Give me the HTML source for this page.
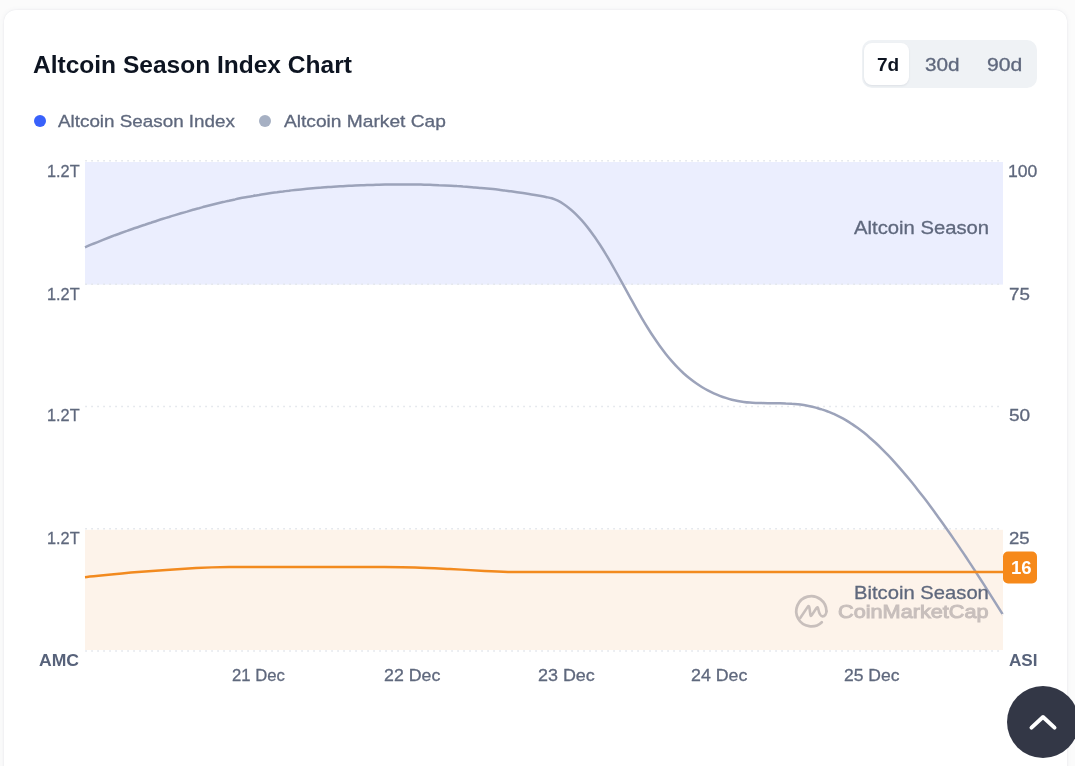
<!DOCTYPE html>
<html lang="en">
<head>
<meta charset="utf-8">
<title>Altcoin Season Index Chart</title>
<style>
*{box-sizing:border-box;margin:0;padding:0}
html,body{width:1075px;height:766px;overflow:hidden;background:#fbfbfb;font-family:"Liberation Sans",sans-serif;}
.card{position:absolute;left:4px;top:10px;width:1063px;height:800px;background:#fff;border-radius:12px;box-shadow:0 0 5px rgba(88,102,126,.07),0 0 1.5px rgba(88,102,126,.10);}
.abs{position:absolute;white-space:nowrap;line-height:1;transform-origin:0 0}
.toggle{position:absolute;left:862px;top:40px;width:175px;height:48px;background:#eff2f5;border-radius:10px;}
.toggle .on{position:absolute;left:2px;top:3px;width:45px;height:42px;background:#fff;border-radius:8px;box-shadow:0 1px 2px rgba(88,102,126,.12);}
.dot{position:absolute;width:12px;height:12px;border-radius:50%;}
svg{position:absolute;left:0;top:0}
</style>
</head>
<body>
<div class="card"></div>
<div class="toggle"><div class="on"></div></div>
<div class="dot" style="left:34px;top:115px;background:#3861fb"></div>
<div class="dot" style="left:259px;top:115px;background:#a6b0c3"></div>

<svg width="1075" height="766" viewBox="0 0 1075 766">
  <rect x="85" y="162" width="918" height="122.6" fill="#ebeefe"/>
  <rect x="85" y="529.8" width="918" height="120.2" fill="#fdf3ea"/>
  <g stroke="#e3e6ec" stroke-width="1.5" stroke-dasharray="1.7 4.3" stroke-dashoffset="-0.2" fill="none">
    <line x1="85" y1="160.8" x2="1003" y2="160.8"/>
    <line x1="85" y1="284.2" x2="1003" y2="284.2"/>
    <line x1="85" y1="406.6" x2="1003" y2="406.6"/>
    <line x1="85" y1="528.8" x2="1003" y2="528.8"/>
    <line x1="85" y1="651" x2="1003" y2="651"/>
  </g>
  <path id="grey" d="M85.0,247.3 C86.0,246.9 89.0,245.6 91.0,244.7 C93.0,243.9 95.0,243.1 97.0,242.3 C99.0,241.5 101.0,240.7 103.0,239.9 C105.0,239.1 107.0,238.3 109.0,237.5 C111.0,236.8 113.0,236.0 115.0,235.2 C117.0,234.5 119.0,233.8 121.0,233.0 C123.0,232.3 125.0,231.6 127.0,230.9 C129.0,230.1 131.0,229.4 133.0,228.7 C135.0,228.0 137.0,227.4 139.0,226.7 C141.0,226.0 143.0,225.3 145.0,224.7 C147.0,224.0 149.0,223.3 151.0,222.7 C153.0,222.0 155.0,221.4 157.0,220.7 C159.0,220.1 161.0,219.5 163.0,218.8 C165.0,218.2 167.0,217.6 169.0,217.0 C171.0,216.3 173.0,215.7 175.0,215.1 C177.0,214.5 179.0,213.9 181.0,213.3 C183.0,212.7 185.0,212.1 187.0,211.6 C189.0,211.0 191.0,210.4 193.0,209.8 C195.0,209.3 197.0,208.7 199.0,208.2 C201.0,207.6 203.0,207.1 205.0,206.5 C207.0,206.0 209.0,205.5 211.0,205.0 C213.0,204.5 215.0,204.0 217.0,203.5 C219.0,203.0 221.0,202.5 223.0,202.0 C225.0,201.6 227.0,201.1 229.0,200.7 C231.0,200.2 233.0,199.8 235.0,199.4 C237.0,198.9 239.0,198.5 241.0,198.1 C243.0,197.7 245.0,197.4 247.0,197.0 C249.0,196.6 251.0,196.2 253.0,195.9 C255.0,195.5 257.0,195.2 259.0,194.9 C261.0,194.5 263.0,194.2 265.0,193.9 C267.0,193.6 269.0,193.3 271.0,193.0 C273.0,192.7 275.0,192.4 277.0,192.2 C279.0,191.9 281.0,191.6 283.0,191.4 C285.0,191.1 287.0,190.9 289.0,190.7 C291.0,190.4 293.0,190.2 295.0,190.0 C297.0,189.8 299.0,189.6 301.0,189.4 C303.0,189.2 305.0,189.0 307.0,188.8 C309.0,188.6 311.0,188.4 313.0,188.2 C315.0,188.1 317.0,187.9 319.0,187.7 C321.0,187.6 323.0,187.4 325.0,187.3 C327.0,187.2 329.0,187.0 331.0,186.9 C333.0,186.7 335.0,186.6 337.0,186.5 C339.0,186.4 341.0,186.3 343.0,186.2 C345.0,186.0 347.0,185.9 349.0,185.8 C351.0,185.7 353.0,185.7 355.0,185.6 C357.0,185.5 359.0,185.4 361.0,185.3 C363.0,185.2 365.0,185.2 367.0,185.1 C369.0,185.0 371.0,185.0 373.0,184.9 C375.0,184.8 377.0,184.8 379.0,184.7 C381.0,184.7 383.0,184.7 385.0,184.6 C387.0,184.6 389.0,184.5 391.0,184.5 C393.0,184.5 395.0,184.5 397.0,184.5 C399.0,184.5 401.0,184.5 403.0,184.5 C405.0,184.5 407.0,184.5 409.0,184.5 C411.0,184.5 413.0,184.5 415.0,184.5 C417.0,184.6 419.0,184.6 421.0,184.6 C423.0,184.7 425.0,184.7 427.0,184.8 C429.0,184.8 431.0,184.9 433.0,184.9 C435.0,185.0 437.0,185.1 439.0,185.2 C441.0,185.2 443.0,185.3 445.0,185.4 C447.0,185.5 449.0,185.6 451.0,185.7 C453.0,185.8 455.0,185.9 457.0,186.1 C459.0,186.2 461.0,186.3 463.0,186.5 C465.0,186.6 467.0,186.7 469.0,186.9 C471.0,187.1 473.0,187.2 475.0,187.4 C477.0,187.6 479.0,187.7 481.0,187.9 C483.0,188.1 485.0,188.3 487.0,188.5 C489.0,188.7 491.0,188.9 493.0,189.1 C495.0,189.4 497.0,189.6 499.0,189.8 C501.0,190.1 503.0,190.3 505.0,190.6 C507.0,190.8 509.0,191.1 511.0,191.3 C513.0,191.6 515.0,191.9 517.0,192.2 C519.0,192.5 521.0,192.8 523.0,193.1 C525.0,193.4 527.0,193.7 529.0,194.0 C531.0,194.4 533.0,194.7 535.0,195.0 C537.0,195.4 539.2,195.8 541.0,196.1 C542.8,196.4 544.0,196.6 545.8,197.0 C547.6,197.4 549.8,197.7 551.8,198.3 C553.8,199.0 555.8,199.8 557.8,200.7 C559.8,201.7 561.8,202.9 563.8,204.2 C565.8,205.5 567.8,207.0 569.8,208.7 C571.8,210.3 573.8,212.1 575.8,214.1 C577.8,216.1 579.8,218.2 581.8,220.4 C583.8,222.7 585.8,225.1 587.8,227.6 C589.8,230.2 591.8,232.9 593.8,235.7 C595.8,238.5 597.8,241.5 599.8,244.5 C601.8,247.6 603.8,250.8 605.8,254.1 C607.8,257.4 609.8,260.9 611.8,264.3 C613.8,267.8 615.8,271.4 617.8,275.0 C619.8,278.6 621.8,282.2 623.8,285.9 C625.8,289.5 627.8,293.2 629.8,296.8 C631.8,300.4 633.8,304.1 635.8,307.6 C637.8,311.1 639.8,314.7 641.8,318.1 C643.8,321.5 645.8,324.8 647.8,328.0 C649.8,331.3 651.8,334.4 653.8,337.3 C655.8,340.3 657.8,343.2 659.8,346.0 C661.8,348.7 663.8,351.3 665.8,353.9 C667.8,356.4 669.8,358.8 671.8,361.1 C673.8,363.4 675.8,365.6 677.8,367.6 C679.8,369.7 681.8,371.6 683.8,373.5 C685.8,375.3 687.8,377.0 689.8,378.6 C691.8,380.2 693.8,381.7 695.8,383.1 C697.8,384.5 699.8,385.8 701.8,387.0 C703.8,388.2 705.8,389.3 707.8,390.3 C709.8,391.4 711.8,392.4 713.8,393.3 C715.8,394.2 717.8,395.0 719.8,395.8 C721.8,396.6 723.8,397.3 725.8,397.9 C727.8,398.6 729.8,399.2 731.8,399.7 C733.8,400.2 735.8,400.6 737.8,401.0 C739.8,401.4 741.8,401.7 743.8,401.9 C745.8,402.2 747.8,402.4 749.8,402.5 C751.8,402.7 753.8,402.8 755.8,402.9 C757.8,403.0 759.8,403.1 761.8,403.1 C763.8,403.2 765.8,403.2 767.8,403.2 C769.8,403.2 771.8,403.2 773.8,403.2 C775.8,403.3 777.8,403.3 779.8,403.3 C781.8,403.3 783.8,403.4 785.8,403.5 C787.8,403.5 789.8,403.6 791.8,403.8 C793.8,403.9 795.8,404.1 797.8,404.3 C799.8,404.5 801.8,404.8 803.8,405.1 C805.8,405.4 807.8,405.8 809.8,406.2 C811.8,406.6 813.8,407.1 815.8,407.6 C817.8,408.2 819.8,408.7 821.8,409.4 C823.8,410.0 825.8,410.7 827.8,411.5 C829.8,412.2 831.8,413.1 833.8,413.9 C835.8,414.8 837.8,415.8 839.8,416.8 C841.8,417.8 843.8,418.9 845.8,420.1 C847.8,421.3 849.8,422.5 851.8,423.9 C853.8,425.2 855.8,426.6 857.8,428.0 C859.8,429.5 861.8,431.0 863.8,432.6 C865.8,434.2 867.8,435.9 869.8,437.7 C871.8,439.4 873.8,441.2 875.8,443.0 C877.8,444.9 879.8,446.8 881.8,448.8 C883.8,450.8 885.8,452.8 887.8,454.9 C889.8,457.0 891.8,459.1 893.8,461.3 C895.8,463.5 897.8,465.8 899.8,468.1 C901.8,470.4 903.8,472.7 905.8,475.1 C907.8,477.5 909.8,479.9 911.8,482.3 C913.8,484.8 915.8,487.3 917.8,489.9 C919.8,492.4 921.8,495.0 923.8,497.6 C925.8,500.2 927.8,502.8 929.8,505.5 C931.8,508.2 933.8,510.9 935.8,513.7 C937.8,516.4 939.8,519.2 941.8,522.0 C943.8,524.8 945.8,527.6 947.8,530.4 C949.8,533.3 951.8,536.2 953.8,539.1 C955.8,542.0 957.8,544.9 959.8,547.9 C961.8,550.8 963.8,553.8 965.8,556.8 C967.8,559.8 969.8,562.9 971.8,565.9 C973.8,568.9 975.8,572.0 977.8,575.1 C979.8,578.2 981.8,581.3 983.8,584.4 C985.8,587.5 987.8,590.7 989.8,593.8 C991.8,597.0 993.8,600.1 995.8,603.3 C997.8,606.5 1000.7,611.1 1001.8,612.9 C1002.9,614.7 1002.4,613.8 1002.5,614.0" fill="none" stroke="#9ca3ba" stroke-width="2.5" stroke-linejoin="round"/>
  <path id="orange" d="M85.0,577.2 C93.8,576.4 119.5,573.6 138.0,572.1 C156.5,570.6 180.5,569.0 196.0,568.1 C211.5,567.2 213.7,567.2 231.0,567.0 C248.3,566.8 275.2,567.0 300.0,567.0 C324.8,567.0 360.8,566.9 380.0,567.0 C399.2,567.1 403.3,567.1 415.0,567.4 C426.7,567.7 438.4,568.4 450.0,569.0 C461.6,569.6 474.9,570.4 484.6,570.9 C494.3,571.4 501.3,571.7 508.0,571.9 C514.7,572.1 509.7,572.1 525.0,572.1 C540.3,572.1 520.3,572.1 600.0,572.1 C679.7,572.1 935.8,572.1 1003.0,572.1" fill="none" stroke="#f28a1f" stroke-width="2.5" stroke-linejoin="round"/>
  <rect x="1003" y="551.5" width="34" height="32" rx="5" fill="#f6891a"/>
  <g fill="none" stroke="#c8bfbc" stroke-width="2.75" stroke-linecap="round" stroke-linejoin="round">
    <path d="M821.8,622.2 A15.1,15.1 0 1 1 826.45,611.3"/>
    <path stroke-width="2.6" d="M800.4,617.8 L807.7,606.9 Q809,605 809.4,607.6 L810.4,614.8 Q810.7,616.8 811.8,615.1 L816.3,608.2 Q817.7,606.1 818.2,608.8 C818.8,612 819.7,616.4 822.6,616.4 C825,616.4 826.45,613.5 826.45,611.3"/>
  </g>
  <circle cx="1043" cy="722" r="36" fill="#333746"/>
  <polyline points="1031.5,727.6 1043,717 1054.5,727.6" fill="none" stroke="#fff" stroke-width="4" stroke-linecap="round" stroke-linejoin="round"/>
</svg>
<div class="abs" id="title" style="left:33.00px;top:52.94px;font-size:24.4px;font-weight:700;color:#0d1421;transform:scaleX(1.0054)">Altcoin Season Index Chart</div>
<div class="abs" id="t7" style="left:876.97px;top:56.66px;font-size:17.6px;font-weight:700;color:#0d1421;transform:scaleX(1.0813)">7d</div>
<div class="abs" id="t30" style="left:925.20px;top:56.95px;font-size:17.6px;font-weight:400;color:#5f687d;transform:scaleX(1.1785);-webkit-text-stroke:0.3px">30d</div>
<div class="abs" id="t90" style="left:987.23px;top:57.30px;font-size:17.6px;font-weight:400;color:#5f687d;transform:scaleX(1.2033);-webkit-text-stroke:0.3px">90d</div>
<div class="abs" id="lg1" style="left:58.26px;top:113.37px;font-size:17.1px;font-weight:400;color:#5f687d;transform:scaleX(1.1017);-webkit-text-stroke:0.3px">Altcoin Season Index</div>
<div class="abs" id="lg2" style="left:283.62px;top:113.37px;font-size:17.1px;font-weight:400;color:#5f687d;transform:scaleX(1.1211);-webkit-text-stroke:0.3px">Altcoin Market Cap</div>
<div class="abs" id="l1" style="left:46.60px;top:163.00px;font-size:17.3px;font-weight:400;color:#5f687d;transform:scaleX(0.9425);-webkit-text-stroke:0.3px">1.2T</div>
<div class="abs" id="l2" style="left:46.60px;top:286.00px;font-size:17.3px;font-weight:400;color:#5f687d;transform:scaleX(0.9425);-webkit-text-stroke:0.3px">1.2T</div>
<div class="abs" id="l3" style="left:46.60px;top:407.20px;font-size:17.3px;font-weight:400;color:#5f687d;transform:scaleX(0.9425);-webkit-text-stroke:0.3px">1.2T</div>
<div class="abs" id="l4" style="left:46.60px;top:530.00px;font-size:17.3px;font-weight:400;color:#5f687d;transform:scaleX(0.9425);-webkit-text-stroke:0.3px">1.2T</div>
<div class="abs" id="r1" style="left:1008.21px;top:163.00px;font-size:17.3px;font-weight:400;color:#5f687d;transform:scaleX(1.0191);-webkit-text-stroke:0.3px">100</div>
<div class="abs" id="r2" style="left:1008.64px;top:286.00px;font-size:17.3px;font-weight:400;color:#5f687d;transform:scaleX(1.0860);-webkit-text-stroke:0.3px">75</div>
<div class="abs" id="r3" style="left:1009.31px;top:406.82px;font-size:17.3px;font-weight:400;color:#5f687d;transform:scaleX(1.1011);-webkit-text-stroke:0.3px">50</div>
<div class="abs" id="r4" style="left:1008.94px;top:530.00px;font-size:17.3px;font-weight:400;color:#5f687d;transform:scaleX(1.0749);-webkit-text-stroke:0.3px">25</div>
<div class="abs" id="amc" style="left:39.16px;top:651.80px;font-size:17.3px;font-weight:700;color:#57627a;transform:scaleX(1.0176)">AMC</div>
<div class="abs" id="asi" style="left:1008.85px;top:651.80px;font-size:17.3px;font-weight:700;color:#57627a;transform:scaleX(0.9904)">ASI</div>
<div class="abs" id="d1" style="left:232.12px;top:666.80px;font-size:17.3px;font-weight:400;color:#5f687d;transform:scaleX(0.9640);-webkit-text-stroke:0.3px">21 Dec</div>
<div class="abs" id="d2" style="left:384.34px;top:666.80px;font-size:17.3px;font-weight:400;color:#5f687d;transform:scaleX(1.0283);-webkit-text-stroke:0.3px">22 Dec</div>
<div class="abs" id="d3" style="left:537.77px;top:666.80px;font-size:17.3px;font-weight:400;color:#5f687d;transform:scaleX(1.0372);-webkit-text-stroke:0.3px">23 Dec</div>
<div class="abs" id="d4" style="left:690.70px;top:666.80px;font-size:17.3px;font-weight:400;color:#5f687d;transform:scaleX(1.0284);-webkit-text-stroke:0.3px">24 Dec</div>
<div class="abs" id="d5" style="left:843.53px;top:666.80px;font-size:17.3px;font-weight:400;color:#5f687d;transform:scaleX(1.0135);-webkit-text-stroke:0.3px">25 Dec</div>
<div class="abs" id="as" style="left:853.57px;top:218.98px;font-size:18.6px;font-weight:400;color:#5f687d;transform:scaleX(1.0893);-webkit-text-stroke:0.3px">Altcoin Season</div>
<div class="abs" id="bs" style="left:854.06px;top:583.98px;font-size:18.6px;font-weight:400;color:#5f687d;transform:scaleX(1.0873);-webkit-text-stroke:0.3px">Bitcoin Season</div>
<div class="abs" id="cmc" style="left:838.38px;top:601.58px;font-size:19.2px;font-weight:401;color:#c8bfbc;transform:scaleX(1.1299);-webkit-text-stroke:1px">CoinMarketCap</div>
<div class="abs" id="b16" style="left:1011.15px;top:560.26px;font-size:17.6px;font-weight:700;color:#ffffff;transform:scaleX(1.0544)">16</div>
</body>
</html>
